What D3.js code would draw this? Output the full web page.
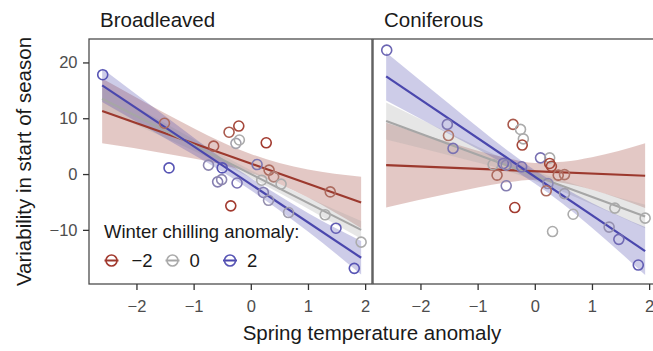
<!DOCTYPE html>
<html lang="en">
<head>
  <meta charset="UTF-8">
  <title>Spring temperature anomaly</title>
  <script src="https://cdn.jsdelivr.net/npm/d3@7"></script>
  <style>
    body { margin: 0; background: #fff; }
    * { font-family: 'Liberation Sans', Arial, Helvetica, sans-serif; }
    .tick-label { fill: #4d4d4d; font-size: 16.5px; }
  </style>
</head>
<body>
  <div id="plot"></div>
  <script>
    // ---- data ----
    const panels = ['Broadleaved', 'Coniferous'];
    const chillLevels = [-2, 0, 2];
    const xTicks = [-2, -1, 0, 1, 2];
    const yTicks = [-10, 0, 10, 20];

    // [temperature anomaly, variability, chilling anomaly]
    const broadPoints = [
      [-2.59, 17.8, 2], [-1.51, 9.1, -1.2], [-1.43, 1.1, 2], [-0.65, 5.0, -1.5],
      [-0.38, 7.5, -1.5], [-0.21, 8.6, -1.8], [-0.26, 5.5, 0.2], [-0.20, 6.1, 0],
      [0.27, 5.6, -2], [-0.74, 1.6, 0.8], [-0.50, 1.1, 2], [-0.58, -1.4, 1],
      [-0.51, -1.0, 0.8], [-0.24, -1.6, 1.3], [-0.35, -5.7, -2], [0.11, 1.7, 1.2],
      [0.32, 0.7, -1.2], [0.19, -1.1, 0], [0.40, -0.5, -0.8], [0.53, -1.8, 0],
      [0.22, -3.3, 1], [0.31, -4.7, 0.6], [0.66, -6.9, 0.3], [1.39, -3.2, -1.2],
      [1.30, -7.3, 0], [1.49, -9.7, 1.8], [1.93, -12.2, 0], [1.81, -16.9, 2]
    ];
    const conifPoints = [
      [-2.59, 22.2, 1.6], [-1.53, 8.9, 1.2], [-1.51, 6.9, -1], [-1.43, 4.6, 1.3],
      [-0.38, 8.9, -1.5], [-0.25, 8.0, 0], [-0.20, 6.3, 0], [-0.22, 5.2, -1.8],
      [-0.73, 1.7, 0], [-0.55, 1.9, 1.4], [-0.50, 1.6, 0.8], [-0.66, -0.2, -1.2],
      [-0.23, 1.3, 1.3], [-0.50, -2.1, 1], [-0.35, -6.0, -2], [0.10, 2.9, 1.3],
      [0.26, 2.9, 0], [0.26, 1.9, -1.8], [0.29, 1.4, -1.8], [0.41, -0.2, -1.2],
      [0.52, -0.1, -1.0], [0.23, -1.7, 0.8], [0.20, -3.0, -1.2], [0.52, -3.5, 0.3],
      [0.67, -7.2, 0], [0.31, -10.3, 0], [1.40, -6.1, 0], [1.30, -9.5, 0.6],
      [1.47, -11.7, 1.5], [1.93, -7.9, 0], [1.81, -16.3, 1.8]
    ];

    // fitted lines: value at x = -2.6 and x = 1.93, one row per chilling level
    const lineX = [-2.6, 1.93];
    const broadLines = [[11.3, -5.1], [13.5, -10.0], [15.9, -15.0]];
    const conifLines = [[1.6, -0.3], [9.5, -7.6], [17.5, -13.8]];

    // confidence bands sampled at fitX
    const fitX = [-2.6, -1.5, -0.5, 0, 0.5, 1.0, 1.93];
    const broadHi = [
      [17.1, 10.9, 5.7, 3.6, 2.0, 0.8, -0.5],
      [15.5, 9.1, 3.4, 0.7, -1.8, -4.2, -8.4],
      [18.9, 10.4, 2.8, -0.7, -3.9, -7.0, -12.0]
    ];
    const broadLo = [
      [5.5, 3.7, 1.7, 0.2, -1.8, -4.2, -9.7],
      [11.5, 6.5, 1.8, -0.7, -3.4, -6.2, -11.6],
      [12.9, 6.4, 0.4, -2.9, -6.5, -10.3, -18.0]
    ];
    const conifHi = [
      [9.2, 5.7, 2.9, 2.0, 2.2, 3.0, 5.5],
      [12.8, 7.35, 2.6, 0.6, -1.2, -2.8, -5.5],
      [21.8, 12.6, 4.4, 0.7, -2.4, -5.2, -9.5]
    ];
    const conifLo = [
      [-6.0, -3.5, -1.5, -1.0, -1.6, -2.8, -6.1],
      [6.2, 3.35, 0.6, -1.2, -3.2, -5.4, -9.7],
      [13.2, 7.2, 1.6, -1.7, -5.4, -9.6, -18.1]
    ];

    const lineColors = ['#9c392e', '#a6a6a6', '#4a47ad'];

    // ---- drawing ----
    const W = 653, H = 351;
    const svg = d3.select('#plot').append('svg')
      .attr('width', W).attr('height', H);

    const plotTop = 39, plotBottom = 284;
    const panelRanges = [[89, 372], [373, 656]];

    const y = d3.scaleLinear().domain([-19.7, 24.2]).range([plotBottom, plotTop]);
    const chillColor = d3.scaleLinear()
      .domain([-2, 0, 2])
      .range(['#a23a2f', '#ababab', '#5754b4'])
      .interpolate(d3.interpolateLab)
      .clamp(true);

    const panelData = [
      { points: broadPoints, lines: broadLines, hi: broadHi, lo: broadLo },
      { points: conifPoints, lines: conifLines, hi: conifHi, lo: conifLo }
    ];

    const fmt = d => d < 0 ? '\u2212' + Math.abs(d) : String(d);

    panelData.forEach((p, pi) => {
      const [x0, x1] = panelRanges[pi];
      const x = d3.scaleLinear().domain([-2.83, 2.12]).range([x0, x1]);
      const g = svg.append('g');

      const clipId = 'clip' + pi;
      svg.append('clipPath').attr('id', clipId)
        .append('rect').attr('x', x0).attr('y', plotTop)
        .attr('width', x1 - x0).attr('height', plotBottom - plotTop);

      const inner = g.append('g').attr('clip-path', `url(#${clipId})`);

      // ribbons
      const area = d3.area()
        .x((d, i) => x(fitX[i]))
        .y0(d => y(d[0]))
        .y1(d => y(d[1]))
        .curve(d3.curveMonotoneX);
      chillLevels.forEach((c, ci) => {
        const band = fitX.map((_, i) => [p.lo[ci][i], p.hi[ci][i]]);
        inner.append('path')
          .attr('d', area(band))
          .attr('fill', lineColors[ci])
          .attr('fill-opacity', 0.28);
      });

      // fitted lines
      chillLevels.forEach((c, ci) => {
        inner.append('line')
          .attr('x1', x(lineX[0])).attr('y1', y(p.lines[ci][0]))
          .attr('x2', x(lineX[1])).attr('y2', y(p.lines[ci][1]))
          .attr('stroke', lineColors[ci])
          .attr('stroke-width', 2.2);
      });

      // points
      g.selectAll('.pt')
        .data(p.points)
        .enter().append('circle')
        .attr('class', 'pt')
        .attr('cx', d => x(d[0]))
        .attr('cy', d => y(d[1]))
        .attr('r', 5)
        .attr('fill', 'none')
        .attr('stroke', d => chillColor(d[2]))
        .attr('stroke-width', 1.6);

      // panel border
      g.append('rect')
        .attr('x', x0).attr('y', plotTop)
        .attr('width', x1 - x0).attr('height', plotBottom - plotTop)
        .attr('fill', 'none')
        .attr('stroke', '#4d4d4d')
        .attr('stroke-width', 1.3);

      // x axis
      const xAxis = g.append('g')
        .attr('transform', `translate(0,${plotBottom})`)
        .call(d3.axisBottom(x).tickValues(xTicks).tickSize(6).tickSizeOuter(0).tickFormat(fmt));
      xAxis.select('.domain').remove();
      xAxis.selectAll('line').attr('stroke', '#333').attr('stroke-width', 1.3);
      xAxis.selectAll('text').attr('class', 'tick-label').attr('dy', '1.15em');
      xAxis.attr('font-family', null).attr('font-size', null);

      // strip title
      svg.append('text')
        .attr('x', x0 + 11).attr('y', 27)
        .attr('font-size', 20.5)
        .attr('fill', '#1a1a1a')
        .text(panels[pi]);

      if (pi === 0) {
        const yAxis = g.append('g')
          .attr('transform', `translate(${x0},0)`)
          .call(d3.axisLeft(y).tickValues(yTicks).tickSize(6).tickSizeOuter(0).tickFormat(fmt));
        yAxis.select('.domain').remove();
        yAxis.selectAll('line').attr('stroke', '#333').attr('stroke-width', 1.3);
        yAxis.selectAll('text').attr('class', 'tick-label').attr('dx', '-0.15em');
        yAxis.attr('font-family', null).attr('font-size', null);

        // legend
        const leg = g.append('g');
        leg.append('text')
          .attr('x', 104).attr('y', 238)
          .attr('font-size', 18.5)
          .attr('fill', '#1a1a1a')
          .text('Winter chilling anomaly:');
        const keyX = [111.5, 172.5, 230];
        chillLevels.forEach((c, ci) => {
          const k = leg.append('g').attr('transform', `translate(${keyX[ci]},260.5)`);
          k.append('line').attr('x1', -7).attr('x2', 7)
            .attr('stroke', lineColors[ci]).attr('stroke-width', 2);
          k.append('circle').attr('r', 5.5).attr('fill', 'none')
            .attr('stroke', chillColor(c)).attr('stroke-width', 1.6);
          k.append('text')
            .attr('x', c === -2 ? 20 : 17).attr('y', 6.5)
            .attr('font-size', 18.5)
            .attr('fill', '#1a1a1a')
            .text(fmt(c));
        });
      }
    });

    // axis titles
    svg.append('text')
      .attr('x', 372).attr('y', 340)
      .attr('text-anchor', 'middle')
      .attr('font-size', 20.5)
      .attr('fill', '#1a1a1a')
      .text('Spring temperature anomaly');

    svg.append('text')
      .attr('transform', `translate(31,${(plotTop + plotBottom) / 2}) rotate(-90)`)
      .attr('text-anchor', 'middle')
      .attr('font-size', 20.5)
      .attr('fill', '#1a1a1a')
      .text('Variability in start of season');
  </script>
</body>
</html>
